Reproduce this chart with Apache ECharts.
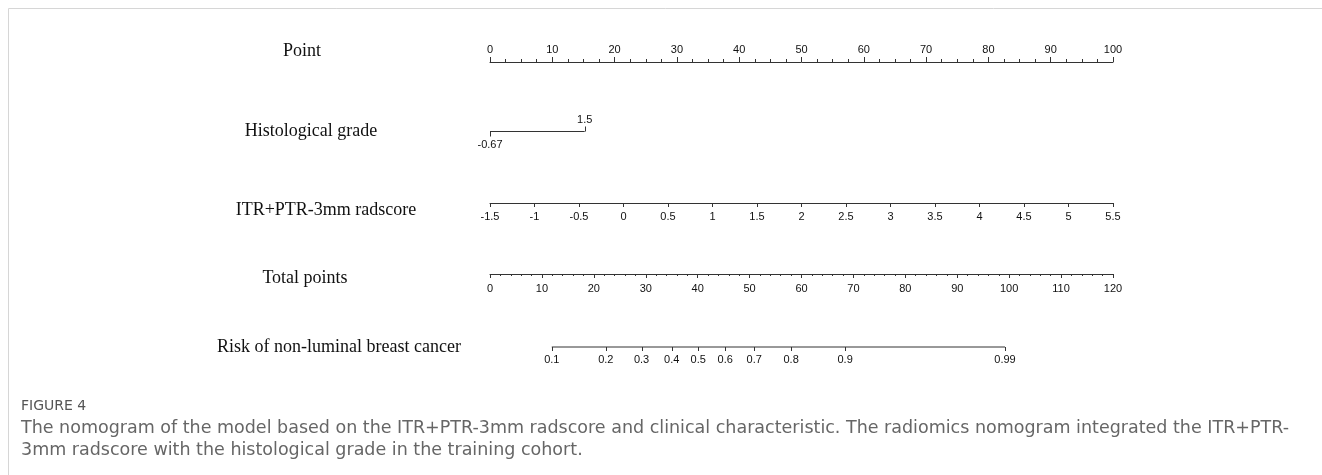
<!DOCTYPE html>
<html>
<head>
<meta charset="utf-8">
<script src="https://cdn.jsdelivr.net/npm/echarts@6/dist/echarts.min.js"></script>
<style>
html,body{margin:0;padding:0;background:#fff}
#chart{width:1322px;height:475px}
</style>
</head>
<body>
<div id="chart"></div>
<script>
// Nomogram rows
const rowNames = ['Point', 'Histological grade', 'ITR+PTR-3mm radscore', 'Total points', 'Risk of non-luminal breast cancer'];

// Point scale
const pointMin = 0, pointMax = 100, pointStep = 10;

// Histological grade: level labels and the points each one scores
const histGradeLabels = ['-0.67', '1.5'];
const histGradePoints = [0, 15.2];

// Radscore scale (spans the full 0-100 points)
const radscoreMin = -1.5, radscoreMax = 5.5, radscoreStep = 0.5;

// Total points scale
const totalMin = 0, totalMax = 120, totalStep = 10;

// Risk scale: probability labels and where they sit on the total points scale
const riskLabels = ['0.1', '0.2', '0.3', '0.4', '0.5', '0.6', '0.7', '0.8', '0.9', '0.99'];
const riskTotalPoints = [11.9, 22.3, 29.2, 35.0, 40.1, 45.3, 50.9, 58.0, 68.4, 99.2];

const captionTitle = 'FIGURE 4';
const captionLines = [
  'The nomogram of the model based on the ITR+PTR-3mm radscore and clinical characteristic. The radiomics nomogram integrated the ITR+PTR-',
  '3mm radscore with the histological grade in the training cohort.'
];

const AX = '#333';
const LABEL_FONT = '"Liberation Sans", Arial, sans-serif';
const NAME_FONT = '"Liberation Serif", "Times New Roman", serif';
const CAP_FONT = '"DejaVu Sans", "Open Sans", sans-serif';

const GL = 490, GW = 623;
const grids = [
  {left: GL, width: GW, top: 62, height: 10},      // point
  {left: GL, width: GW, top: 121.5, height: 20},   // histological grade
  {left: GL, width: GW, top: 193, height: 10},     // radscore
  {left: GL, width: GW, top: 264, height: 10},     // total points
  {left: GL, width: GW, top: 337, height: 20}      // risk
];

const hiddenY = grids.map((g, i) => ({gridIndex: i, type: 'value', min: 0, max: 1, show: false}));

const labelStyle = {color: '#111', fontFamily: LABEL_FONT, fontSize: 11};

const xAxes = [
  {
    gridIndex: 0, type: 'value', position: 'top', min: pointMin, max: pointMax, interval: pointStep,
    axisLine: {show: true, onZero: false, lineStyle: {color: AX, width: 1}},
    axisTick: {show: true, length: 5, lineStyle: {color: AX}},
    minorTick: {show: true, splitNumber: 4, length: 3, lineStyle: {color: AX}},
    axisLabel: Object.assign({margin: 7}, labelStyle),
    splitLine: {show: false}
  },
  {gridIndex: 1, type: 'value', min: pointMin, max: pointMax, show: false},
  {
    gridIndex: 2, type: 'value', position: 'bottom', min: radscoreMin, max: radscoreMax, interval: radscoreStep,
    axisLine: {show: true, onZero: false, lineStyle: {color: AX, width: 1}},
    axisTick: {show: true, length: 4, lineStyle: {color: AX}},
    axisLabel: Object.assign({margin: 8}, labelStyle),
    splitLine: {show: false}
  },
  {
    gridIndex: 3, type: 'value', position: 'bottom', min: totalMin, max: totalMax, interval: totalStep,
    axisLine: {show: true, onZero: false, lineStyle: {color: AX, width: 1}},
    axisTick: {show: true, length: 4, lineStyle: {color: AX}},
    minorTick: {show: true, splitNumber: 5, length: 2, lineStyle: {color: AX}},
    axisLabel: Object.assign({margin: 9}, labelStyle),
    splitLine: {show: false}
  },
  {gridIndex: 4, type: 'value', min: totalMin, max: totalMax, show: false}
];

// Draws a tick and its label at a scale value; dir -1 puts them above the line
function tickItem(api, x, text, dir, tickLen, labelOff) {
  const p = api.coord([x, 0.5]);
  const px = Math.round(p[0]) + 0.5;
  return {
    type: 'group',
    children: [
      {type: 'line', shape: {x1: px, y1: p[1], x2: px, y2: p[1] + dir * tickLen},
       style: {stroke: AX, lineWidth: 1}},
      {type: 'text', x: p[0], y: p[1] + dir * labelOff,
       style: {text: text, fill: '#111', font: '11px ' + LABEL_FONT, align: 'center', verticalAlign: 'middle'}}
    ]
  };
}

const segStyle = {color: AX, width: 1};

const series = [
  // histological grade segment
  {
    type: 'line', xAxisIndex: 1, yAxisIndex: 1, symbol: 'none', silent: true,
    lineStyle: segStyle,
    data: [[histGradePoints[0], 0.5], [histGradePoints[histGradePoints.length - 1], 0.5]]
  },
  {
    type: 'custom', xAxisIndex: 1, yAxisIndex: 1, silent: true,
    data: histGradePoints.map((v, i) => [v, i]),
    renderItem: function (params, api) {
      const i = params.dataIndex;
      const above = i % 2 === 1;
      return tickItem(api, api.value(0), histGradeLabels[i], above ? -1 : 1, 5, above ? 11.5 : 13.5);
    }
  },
  // risk segment
  {
    type: 'line', xAxisIndex: 4, yAxisIndex: 4, symbol: 'none', silent: true,
    lineStyle: segStyle,
    data: [[riskTotalPoints[0], 0.5], [riskTotalPoints[riskTotalPoints.length - 1], 0.5]]
  },
  {
    type: 'custom', xAxisIndex: 4, yAxisIndex: 4, silent: true,
    data: riskTotalPoints.map((v, i) => [v, i]),
    renderItem: function (params, api) {
      const i = params.dataIndex;
      return tickItem(api, api.value(0), riskLabels[i], 1, 4, 13);
    }
  }
];

// Row names, left of each scale
const namePos = [[302, 51], [311, 131], [326, 210], [305, 278], [339, 347]];
const graphics = rowNames.map((t, i) => ({
  type: 'text', x: namePos[i][0], y: namePos[i][1], silent: true,
  style: {text: t, fill: '#111', font: '18px ' + NAME_FONT, align: 'center', verticalAlign: 'middle'}
}));

// Frame lines
graphics.push(
  {type: 'line', silent: true, shape: {x1: 8.5, y1: 8.5, x2: 1322, y2: 8.5}, style: {stroke: '#d6d6d6', lineWidth: 1}},
  {type: 'line', silent: true, shape: {x1: 8.5, y1: 8.5, x2: 8.5, y2: 475}, style: {stroke: '#d6d6d6', lineWidth: 1}}
);

// Caption
graphics.push({
  type: 'text', x: 21, y: 406, silent: true,
  style: {text: captionTitle, fill: '#555', font: '14px ' + CAP_FONT, verticalAlign: 'middle'}
});
captionLines.forEach((t, i) => graphics.push({
  type: 'text', x: 21, y: 428 + i * 22, silent: true,
  style: {text: t, fill: '#666', font: '17.5px ' + CAP_FONT, verticalAlign: 'middle'}
}));

const chart = echarts.init(document.getElementById('chart'), null, {renderer: 'canvas'});
chart.setOption({
  animation: false,
  backgroundColor: '#fff',
  grid: grids,
  xAxis: xAxes,
  yAxis: hiddenY,
  series: series,
  graphic: graphics
});
</script>
</body>
</html>
